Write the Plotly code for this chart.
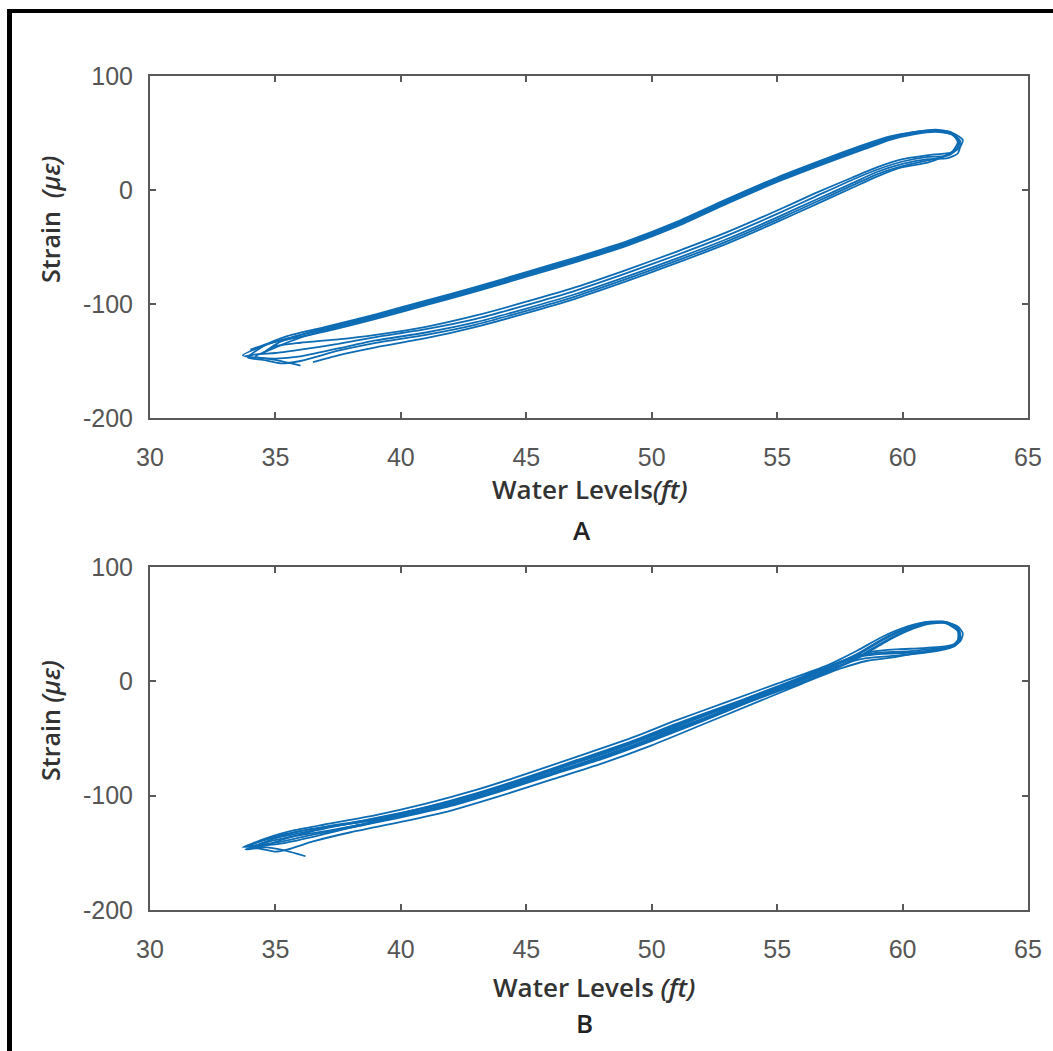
import plotly.graph_objects as go

# ---------------- Data ----------------
# Panel A: hysteresis cycles, Water level (ft) vs Strain (micro-strain)
a1_x = [33.7, 34.5, 35.5, 37, 39, 41, 43, 45, 47, 49, 51, 53, 55, 57, 58.5, 59.5, 60.5, 61.3, 62.0, 62.3, 62.2, 61.8, 61.0, 60.0, 59.0, 58.0, 56.5, 55.0, 53.0, 51.0, 49.0, 47.0, 45.0, 43.0, 41.0, 39.0, 37.5, 36.0, 35.0, 34.2, 33.7]
a1_y = [-145, -137, -130, -122, -111, -99, -87, -74, -61, -47, -30, -10, 9, 26, 38, 45, 50, 52, 48, 40, 32, 28, 27, 23, 16, 6, -9, -24, -43, -60, -76, -91, -104, -116, -125, -132, -139, -146, -148, -147, -145]

a2_x = [34.0, 34.8, 35.5, 37, 39, 41, 43, 45, 47, 49, 51, 53, 55, 57, 58.5, 59.5, 60.5, 61.3, 62.0, 62.3, 62.1, 61.7, 61.0, 60.0, 59.0, 58.0, 56.5, 55.0, 53.0, 51.0, 49.0, 47.0, 45.0, 43.0, 41.0, 39.0, 37.5, 36.0, 35.0, 34.3, 33.8]
a2_y = [-140, -134, -131, -124, -113, -101, -89, -76, -63, -49, -32, -12, 7, 24, 36, 44, 49, 51, 49, 43, 35, 30, 29, 25, 18, 9, -6, -21, -40, -57, -73, -88, -101, -113, -122, -129, -135, -140, -143, -144, -146]

a3_x = [33.9, 34.6, 35.5, 37, 39, 41, 43, 45, 47, 49, 51, 53, 55, 57, 58.5, 59.5, 60.5, 61.3, 61.9, 62.2, 62.2, 61.9, 61.0, 60.0, 59.0, 58.0, 56.5, 55.0, 53.0, 51.0, 49.0, 47.0, 45.0, 43.0, 41.0, 39.0, 37.5, 36.0, 35.2, 34.5, 33.9]
a3_y = [-147, -136, -128, -120, -109, -97, -85, -72, -59, -45, -28, -8, 11, 28, 40, 47, 51, 53, 51, 45, 37, 31, 26, 21, 14, 4, -11, -26, -45, -62, -78, -93, -106, -118, -127, -134, -141, -150, -152, -149, -147]

a4_x = [34.5, 35.2, 36, 37, 39, 41, 43, 45, 47, 49, 51, 53, 55, 57, 58.5, 59.5, 60.5, 61.3, 62.0, 62.4, 62.3, 62.0, 61.2, 60.0, 59.0, 58.0, 56.5, 55.0, 53.0, 51.0, 49.0, 47.0, 45.0, 43.0, 41.0, 39.0, 37.5, 36.0, 35.0, 34.5]
a4_y = [-143, -133, -127, -121, -110, -98, -86, -73, -60, -46, -29, -9, 10, 27, 39, 46, 51, 52, 50, 44, 38, 33, 31, 27, 20, 11, -3, -18, -37, -54, -70, -85, -98, -110, -120, -127, -131, -134, -137, -143]

a5_x = [36.0, 35.0, 34.2, 34.8, 35.8, 37, 39, 41, 43, 45, 47, 49, 51, 53, 55, 57, 58.5, 59.5, 60.5, 61.3, 62.0, 62.2, 62.0, 61.6, 61.0, 60.0, 59.0, 58.0, 56.5, 55.0, 53.0, 51.0, 49.0, 47.0, 45.0, 43.0, 41.0, 39.0, 37.5, 36.5]
a5_y = [-154, -149, -146, -140, -131, -123, -112, -100, -88, -75, -62, -48, -31, -11, 8, 25, 37, 45, 50, 52, 49, 42, 34, 29, 24, 20, 12, 2, -13, -28, -47, -64, -80, -95, -108, -120, -130, -138, -145, -151]

# Panel B: hysteresis cycles
b1_x = [33.7, 34.5, 35.5, 37, 39, 41, 43, 45, 47, 49, 51, 53, 55, 57, 58.2, 59.2, 60.2, 61.0, 61.7, 62.2, 62.3, 62.1, 61.5, 60.5, 59.5, 58.5, 57.5, 56, 54, 52, 50, 48, 46, 44, 42, 40, 38, 36.5, 35.2, 34.3, 33.7]
b1_y = [-145, -139, -133, -127, -120, -110, -98, -84, -69, -54, -37, -21, -5, 12, 24, 37, 47, 52, 52, 46, 38, 31, 27, 24, 22, 20, 14, 1, -17, -35, -52, -68, -82, -96, -109, -119, -128, -136, -142, -144, -145]

b2_x = [34.0, 34.8, 35.8, 37, 39, 41, 43, 45, 47, 49, 51, 53, 55, 57, 58.2, 59.2, 60.2, 61.0, 61.7, 62.2, 62.2, 61.9, 61.2, 60.2, 59.2, 58.4, 57.5, 56, 54, 52, 50, 48, 46, 44, 42, 40, 38, 36.5, 35.2, 34.5, 34.0]
b2_y = [-143, -136, -130, -125, -117, -107, -95, -81, -66, -51, -34, -18, -2, 14, 27, 39, 48, 52, 51, 44, 36, 30, 27, 25, 24, 22, 16, 4, -13, -31, -48, -64, -78, -92, -105, -115, -124, -131, -139, -144, -143]

b3_x = [33.8, 34.6, 35.6, 37, 39, 41, 43, 45, 47, 49, 51, 53, 55, 57, 58.2, 59.2, 60.2, 61.0, 61.7, 62.1, 62.3, 62.2, 61.6, 60.6, 59.6, 58.6, 57.5, 56, 54, 52, 50, 48, 46, 44, 42, 40, 38, 36.5, 35.5, 35.0, 34.3, 33.8]
b3_y = [-147, -141, -136, -131, -123, -113, -101, -88, -73, -58, -41, -25, -9, 8, 20, 33, 44, 50, 51, 47, 40, 33, 29, 25, 21, 18, 11, -2, -20, -38, -56, -72, -86, -100, -113, -123, -132, -140, -147, -149, -146, -147]

b4_x = [36.2, 35.4, 34.5, 34.0, 34.9, 36, 37.5, 39, 41, 43, 45, 47, 49, 51, 53, 55, 57, 58.2, 59.2, 60.2, 61.0, 61.7, 62.2, 62.3, 62.2, 61.8, 61.0, 60.0, 59.0, 58.2, 57.5, 56, 54, 52, 50, 48, 46, 44, 42, 40, 38, 37]
b4_y = [-153, -148, -145, -146, -138, -131, -126, -121, -111, -99, -85, -70, -55, -38, -22, -6, 11, 23, 36, 46, 51, 52, 47, 41, 34, 30, 28, 26, 25, 22, 17, 3, -15, -33, -50, -66, -80, -94, -107, -118, -127, -132]

b5_x = [33.9, 34.7, 35.7, 37, 39, 41, 43, 45, 47, 49, 51, 53, 55, 57, 58.2, 59.2, 60.2, 61.0, 61.7, 62.2, 62.4, 62.3, 61.8, 60.8, 59.8, 58.8, 57.8, 56, 54, 52, 50, 48, 46, 44, 42, 40, 38, 36.5, 35.3, 34.4, 33.9]
b5_y = [-144, -138, -134, -128, -121, -111, -99, -86, -71, -56, -39, -23, -7, 9, 21, 34, 45, 51, 52, 48, 42, 35, 31, 29, 28, 26, 19, 2, -16, -34, -51, -67, -81, -95, -108, -118, -128, -134, -140, -143, -144]

x_ticks = [30, 35, 40, 45, 50, 55, 60, 65]
x_tick_text = ["30", "35", "40", "45", "50", "55", "60", "65"]
y_ticks = [-200, -100, 0, 100]
y_tick_text = ["-200", "-100", "0", "100"]
x_title_a = "Water Levels<i>(ft)</i>"
x_title_b = "Water Levels <i>(ft)</i>"
y_title_a = "Strain  <i>(με)</i>"
y_title_b = "Strain <i>(με)</i>"
panel_labels = ["A", "B"]

# ---------------- Figure ----------------
W, H = 1053, 1051
LINE_COLOR = "#0d6cb4"
AXIS_COLOR = "#595959"

def px_x(p):
    return p / W

def px_y(p):
    return (H - p) / H

fig = go.Figure()

for xs, ys in [(a1_x, a1_y), (a2_x, a2_y), (a3_x, a3_y), (a4_x, a4_y), (a5_x, a5_y)]:
    fig.add_trace(go.Scatter(x=xs, y=ys, mode="lines", xaxis="x", yaxis="y",
                             line=dict(color=LINE_COLOR, width=1.8, shape="spline", smoothing=0.6),
                             showlegend=False, hoverinfo="skip"))
for xs, ys in [(b1_x, b1_y), (b2_x, b2_y), (b3_x, b3_y), (b4_x, b4_y), (b5_x, b5_y)]:
    fig.add_trace(go.Scatter(x=xs, y=ys, mode="lines", xaxis="x2", yaxis="y2",
                             line=dict(color=LINE_COLOR, width=1.8, shape="spline", smoothing=0.6),
                             showlegend=False, hoverinfo="skip"))

tick_font = dict(family="Liberation Sans, Arial, sans-serif", size=25, color="#555555")
axis_common = dict(showgrid=False, zeroline=False, showline=True, linecolor=AXIS_COLOR,
                   linewidth=2, mirror="allticks", ticks="inside", ticklen=6, tickwidth=1.5,
                   tickcolor=AXIS_COLOR, tickfont=tick_font, automargin=False)

xdom = [px_x(150), px_x(1028)]
fig.update_layout(
    width=W, height=H,
    margin=dict(l=0, r=0, t=0, b=0),
    paper_bgcolor="white", plot_bgcolor="white",
    xaxis=dict(domain=xdom, range=[30, 65], tickvals=x_ticks, ticktext=x_tick_text,
               anchor="y", ticklabelstandoff=16, **axis_common),
    yaxis=dict(domain=[px_y(418), px_y(76)], range=[-200, 100], tickvals=y_ticks,
               ticktext=y_tick_text, anchor="x", ticklabelstandoff=10, **axis_common),
    xaxis2=dict(domain=xdom, range=[30, 65], tickvals=x_ticks, ticktext=x_tick_text,
                anchor="y2", ticklabelstandoff=16, **axis_common),
    yaxis2=dict(domain=[px_y(910), px_y(567)], range=[-200, 100], tickvals=y_ticks,
                ticktext=y_tick_text, anchor="x2", ticklabelstandoff=10, **axis_common),
)

title_font = dict(family="Open Sans, sans-serif", size=26, color="#333333", weight=600)
ytitle_font = dict(family="Open Sans, sans-serif", size=25, color="#333333", weight=600)
label_font = dict(family="Open Sans, sans-serif", size=26, color="#222222", weight=600)

ann = [
    dict(text=x_title_a, x=px_x(590), y=px_y(489), font=title_font),
    dict(text=x_title_b, x=px_x(594), y=px_y(987), font=title_font),
    dict(text=panel_labels[0], x=px_x(582), y=px_y(530), font=label_font),
    dict(text=panel_labels[1], x=px_x(584), y=px_y(1023), font=label_font),
    dict(text=y_title_a, x=px_x(50), y=px_y(220), font=ytitle_font, textangle=-90),
    dict(text=y_title_b, x=px_x(50), y=px_y(721), font=ytitle_font, textangle=-90),
]
for a in ann:
    fig.add_annotation(xref="paper", yref="paper", showarrow=False,
                       xanchor="center", yanchor="middle", **a)

# outer black frame (left and top edges visible)
fig.add_shape(type="rect", xref="paper", yref="paper", x0=px_x(7), x1=px_x(12),
              y0=0, y1=px_y(9), fillcolor="black", line_width=0, layer="above")
fig.add_shape(type="rect", xref="paper", yref="paper", x0=px_x(7), x1=1,
              y0=px_y(13), y1=px_y(9), fillcolor="black", line_width=0, layer="above")

fig.write_html("out.html")
